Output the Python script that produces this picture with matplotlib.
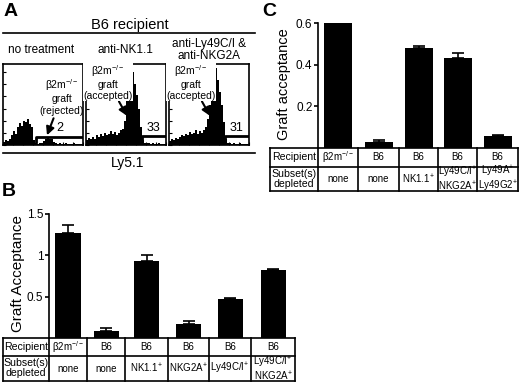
import numpy as np
import matplotlib
matplotlib.use("Agg")
import matplotlib.pyplot as plt

plt.rcParams['font.family'] = ['Liberation Sans', 'DejaVu Sans']
plt.rcParams['mathtext.fontset'] = 'custom'
plt.rcParams['mathtext.rm'] = 'Liberation Sans'
plt.rcParams['mathtext.it'] = 'Liberation Sans'
plt.rcParams['mathtext.bf'] = 'Liberation Sans:bold'

# --- panel A : Ly5.1 histograms (fraction of box height, 40 bins) ---
hist_titles = ["no treatment", "anti-NK1.1", "anti-Ly49C/I &\nanti-NKG2A"]
hist_none = [0.04, 0.06, 0.05, 0.08, 0.12, 0.17, 0.14, 0.22, 0.27, 0.24,
             0.30, 0.28, 0.32, 0.26, 0.22, 0.06, 0.02, 0.01, 0.02, 0.03,
             0.05, 0.08, 0.09, 0.07, 0.08, 0.04, 0.02, 0.01, 0.02, 0.01,
             0.01, 0.02, 0.01, 0.01, 0.01, 0.02, 0.01, 0.01, 0.01, 0.01]
hist_nk11 = [0.06, 0.09, 0.07, 0.10, 0.08, 0.12, 0.10, 0.13, 0.11, 0.15,
             0.12, 0.14, 0.17, 0.13, 0.16, 0.12, 0.15, 0.18, 0.20, 0.30,
             0.55, 0.80, 1.00, 0.90, 0.75, 0.62, 0.45, 0.22, 0.06, 0.02,
             0.02, 0.02, 0.01, 0.02, 0.01, 0.01, 0.02, 0.01, 0.01, 0.01]
hist_ly49 = [0.05, 0.07, 0.06, 0.09, 0.08, 0.10, 0.12, 0.11, 0.14, 0.12,
             0.16, 0.13, 0.15, 0.18, 0.14, 0.17, 0.15, 0.19, 0.22, 0.32,
             0.50, 0.78, 1.00, 0.95, 0.80, 0.65, 0.50, 0.28, 0.08, 0.02,
             0.02, 0.01, 0.02, 0.01, 0.01, 0.02, 0.01, 0.01, 0.01, 0.01]
gate_pct = ["2", "33", "31"]
gate_text = ["\u03b22m$^{-/-}$\ngraft\n(rejected)",
             "\u03b22m$^{-/-}$\ngraft\n(accepted)",
             "\u03b22m$^{-/-}$\ngraft\n(accepted)"]

# --- panel B ---
b_recipient = ["\u03b22m$^{-/-}$", "B6", "B6", "B6", "B6", "B6"]
b_depleted = ["none", "none", "NK1.1$^{+}$", "NKG2A$^{+}$", "Ly49C/I$^{+}$",
              "Ly49C/I$^{+}$\nNKG2A$^{+}$"]
b_values = [1.27, 0.08, 0.93, 0.17, 0.47, 0.82]
b_err = [0.10, 0.04, 0.08, 0.03, 0.01, 0.02]

# --- panel C ---
c_recipient = ["\u03b22m$^{-/-}$", "B6", "B6", "B6", "B6"]
c_depleted = ["none", "none", "NK1.1$^{+}$", "Ly49C/I$^{+}$\nNKG2A$^{+}$",
              "Ly49A$^{+}$\nLy49G2$^{+}$"]
c_values = [0.60, 0.03, 0.482, 0.432, 0.058]
c_err = [0.004, 0.008, 0.008, 0.024, 0.005]

W, H = 520, 383
fig = plt.figure(figsize=(W / 100, H / 100), dpi=100)


def px_axes(x0, y0, x1, y1):
    return fig.add_axes([x0 / W, 1 - y1 / H, (x1 - x0) / W, (y1 - y0) / H])


ov = fig.add_axes([0, 0, 1, 1])
ov.set_xlim(0, W)
ov.set_ylim(H, 0)
ov.axis('off')

# panel letters
for lab, x, y in [("A", 11, 11), ("B", 9, 192), ("C", 269, 11)]:
    ov.text(x, y, lab, fontsize=14, fontweight='bold', ha='center', va='center')

# ---------------- A ----------------
ov.text(130, 25, "B6 recipient", fontsize=10.5, ha='center', va='center')
ov.plot([3, 255], [33, 33], color='black', lw=1.2)
ov.plot([3, 255], [153, 153], color='black', lw=1.2)
ov.text(128, 163, "Ly5.1", fontsize=10, ha='center', va='center')

box_x = [3, 86, 169]
title_x = [41, 125, 209]
hists = [hist_none, hist_nk11, hist_ly49]
for i in range(3):
    ax = px_axes(box_x[i], 64, box_x[i] + 80, 145)
    edges = np.linspace(0, 80, len(hists[i]) + 1)
    ax.stairs(hists[i], edges, fill=True, color='black')
    ax.set_xlim(0, 80)
    ax.set_ylim(0, 1)
    ax.set_xticks(np.arange(0, 81, 10))
    ax.set_yticks(np.arange(0, 1.01, 0.15))
    ax.tick_params(direction='in', length=2, width=0.8, labelleft=False,
                   labelbottom=False)
    for s in ax.spines.values():
        s.set_linewidth(1.2)
    ov.text(title_x[i], 50, hist_titles[i], fontsize=8.5, ha='center',
            va='center', linespacing=1.1)
    if i == 0:
        ax.plot([33, 33, 80], [0.04, 0.1, 0.1], color='black', lw=2)
        ax.text(57, 0.21, gate_pct[i], fontsize=9, ha='center', va='center')
        ax.annotate(gate_text[i], xy=(44, 0.12), xytext=(59, 0.6),
                    fontsize=7.5, ha='center', va='center', linespacing=1.15,
                    arrowprops=dict(arrowstyle='-|>', color='black', lw=1.5,
                                    mutation_scale=12, shrinkA=15, shrinkB=0))
    else:
        ax.plot([56, 56, 80], [0.06, 0.11, 0.11], color='black', lw=2)
        ax.text(67, 0.21, gate_pct[i], fontsize=9, ha='center', va='center')
        ax.annotate(gate_text[i], xy=(41, 0.36), xytext=(22, 0.78),
                    fontsize=7.5, ha='center', va='center', linespacing=1.15,
                    bbox=dict(boxstyle='square,pad=0.05', fc='white', ec='none'),
                    arrowprops=dict(arrowstyle='-|>', color='black', lw=1.5,
                                    mutation_scale=12, shrinkA=13, shrinkB=0))


def draw_table(x_edges, rows_y, recip, depl, label_fs=7.6, cell_fs=7):
    x0, x1 = x_edges[0], x_edges[-1]
    for y in rows_y:
        ov.plot([x0, x1], [y, y], color='black', lw=1.2)
    for x in x_edges:
        ov.plot([x, x], [rows_y[0], rows_y[-1]], color='black', lw=1.2)
    ym1 = (rows_y[0] + rows_y[1]) / 2
    ym2 = (rows_y[1] + rows_y[2]) / 2
    xm = (x_edges[0] + x_edges[1]) / 2
    ov.text(xm, ym1, "Recipient", fontsize=label_fs, ha='center', va='center')
    ov.text(xm, ym2, "Subset(s)\ndepleted", fontsize=label_fs, ha='center',
            va='center', linespacing=1.0)
    for j in range(len(recip)):
        cx = (x_edges[j + 1] + x_edges[j + 2]) / 2
        ov.text(cx, ym1, recip[j], fontsize=cell_fs, ha='center', va='center')
        ov.text(cx, ym2, depl[j], fontsize=cell_fs, ha='center', va='center',
                linespacing=1.0)


def bar_panel(x_edges, y_top, y_zero, vals, errs, ymax, ticks, ticklabels,
              width):
    ax = px_axes(x_edges[1], y_top, x_edges[-1], y_zero)
    centers = [(x_edges[k] + x_edges[k + 1]) / 2 for k in range(1, len(x_edges) - 1)]
    ax.bar(centers, vals, width=width, color='black',
           yerr=[np.zeros(len(errs)), errs], capsize=4,
           error_kw=dict(ecolor='black', elinewidth=1.2, capthick=1.2))
    ax.set_xlim(x_edges[1], x_edges[-1])
    ax.set_ylim(0, ymax)
    ax.set_yticks(ticks)
    ax.set_yticklabels(ticklabels, fontsize=8.5)
    ax.set_xticks([])
    for s in ['top', 'right', 'bottom']:
        ax.spines[s].set_visible(False)
    ax.spines['left'].set_linewidth(1.2)
    ax.tick_params(axis='y', length=3, width=1.2, pad=1)
    ax.patch.set_alpha(0)
    return ax


# ---------------- B ----------------
b_edges = [3, 49, 87, 125, 168, 209, 251, 295]
bar_panel(b_edges, 214, 338, b_values, b_err, 1.5, [0.5, 1, 1.5],
          ["0.5", "1", "1.5"], 25)
draw_table(b_edges, [338, 356, 381], b_recipient, b_depleted)
ov.text(18, 274, "Graft Acceptance", fontsize=11, rotation=90,
        ha='center', va='center')

# ---------------- C ----------------
c_edges = [270, 318, 358, 399, 438, 477, 518]
bar_panel(c_edges, 23, 148, c_values, c_err, 0.6, [0.2, 0.4, 0.6],
          ["0.2", "0.4", "0.6"], 28)
draw_table(c_edges, [148, 167, 191], c_recipient, c_depleted)
ov.text(284, 84, "Graft acceptance", fontsize=10.5, rotation=90,
        ha='center', va='center')

fig.savefig("out.png", dpi=100)
